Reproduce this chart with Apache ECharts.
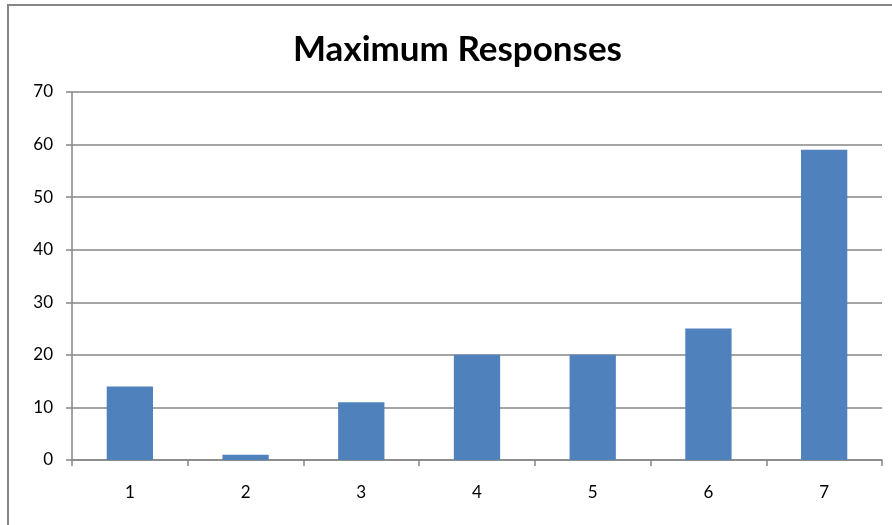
<!DOCTYPE html>
<html>
<head>
<meta charset="utf-8">
<script src="https://cdn.jsdelivr.net/npm/echarts@6/dist/echarts.min.js"></script>
<style>
html,body{margin:0;padding:0;background:#fff;}
#chart{width:892px;height:525px;}
</style>
</head>
<body>
<div id="chart"></div>
<script>
const categories = ['1','2','3','4','5','6','7'];
const values = [14, 1, 11, 20, 20, 25, 59];
const titleText = 'Maximum Responses';

const chart = echarts.init(document.getElementById('chart'));
chart.setOption({
  animation: false,
  backgroundColor: '#fff',
  title: {
    text: titleText,
    left: 288,
    top: 27,
    textStyle: { fontFamily: 'Lato', fontWeight: 'bold', fontSize: 35, color: '#000' }
  },
  graphic: [{
    type: 'rect',
    shape: { x: 8, y: 5, width: 1000, height: 1000 },
    style: { fill: 'none', stroke: '#868686', lineWidth: 2 },
    silent: true
  }],
  grid: { left: 72, right: 10, top: 92, bottom: 65 },
  xAxis: {
    type: 'category',
    data: categories,
    axisLine: { lineStyle: { color: '#868686', width: 1.5 } },
    axisTick: { show: true, length: 6, lineStyle: { color: '#868686', width: 1.5 } },
    axisLabel: { fontFamily: 'Lato', fontSize: 17, color: '#000', margin: 24 }
  },
  yAxis: {
    type: 'value',
    min: 0, max: 70, interval: 10,
    axisLine: { show: true, lineStyle: { color: '#868686', width: 1.5 } },
    axisTick: { show: true, length: 6, lineStyle: { color: '#868686', width: 1.5 } },
    splitLine: { lineStyle: { color: '#868686', width: 1.5 } },
    axisLabel: { fontFamily: 'Lato', fontSize: 17, color: '#000', margin: 19 }
  },
  series: [{
    type: 'bar',
    data: values,
    barWidth: '40%',
    itemStyle: { color: '#4f81bd' }
  }]
});
</script>
</body>
</html>
